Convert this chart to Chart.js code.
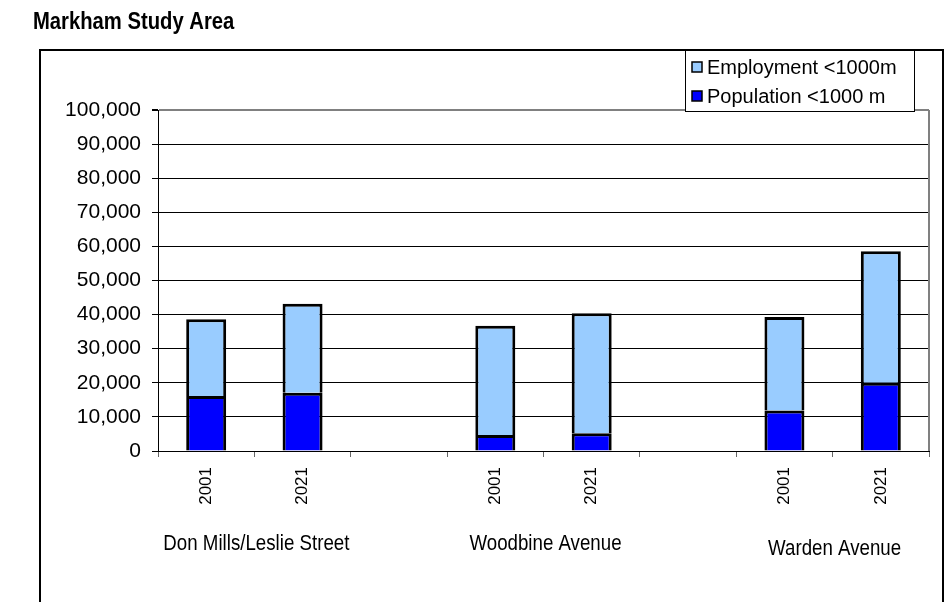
<!DOCTYPE html>
<html>
<head>
<meta charset="utf-8">
<script src="https://cdn.jsdelivr.net/npm/chart.js@4.4.0/dist/chart.umd.min.js"></script>
<style>
  body { margin: 0; background: #fff; }
</style>
</head>
<body>
<canvas id="grafico" width="951" height="602"></canvas>
<script>
var years = ['2001', '2021', '', '2001', '2021', '', '2001', '2021'];
var corridors = ['Don Mills/Leslie Street', 'Woodbine Avenue', 'Warden Avenue'];
var corridorStart = [0, 3, 6];
var population = [16100, 17100, null, 4700, 5200, null, 11900, 20000];
var employment = [22500, 26100, null, 32000, 35200, null, 27400, 38600];
var seriesNames = ['Population <1000 m', 'Employment <1000m'];

// Arial Narrow look-alike if it is there, plain Liberation Sans otherwise
function hasFont(name) {
    var c = document.createElement('canvas').getContext('2d');
    c.font = '20px monospace';
    var a = c.measureText('2001 Don Mills').width;
    c.font = '20px "' + name + '", monospace';
    return c.measureText('2001 Don Mills').width !== a;
}
var narrow = hasFont('Liberation Sans Narrow');
var sans = '"Liberation Sans", Arial, sans-serif';
var narrowFamily = narrow ? '"Liberation Sans Narrow", ' + sans : sans;

var frame = {
    id: 'frame',
    beforeDraw: function (chart) {
        var ctx = chart.ctx;
        ctx.save();
        ctx.fillStyle = '#fff';
        ctx.fillRect(0, 0, chart.width, chart.height);
        // outer box, open at the bottom
        ctx.strokeStyle = '#000';
        ctx.lineWidth = 2;
        ctx.beginPath();
        ctx.moveTo(40, 610);
        ctx.lineTo(40, 50);
        ctx.lineTo(943, 50);
        ctx.lineTo(943, 610);
        ctx.stroke();
        // title
        ctx.fillStyle = '#000';
        ctx.font = 'bold 23px ' + narrowFamily;
        ctx.textBaseline = 'alphabetic';
        ctx.save();
        ctx.translate(33, 29);
        if (!narrow) ctx.scale(0.88, 1);
        ctx.fillText('Markham Study Area', 0, 0);
        ctx.restore();
        ctx.restore();
    },
    afterDraw: function (chart) {
        var ctx = chart.ctx;
        var area = chart.chartArea;
        var x = chart.scales.x;
        ctx.save();
        // grey plot border on the right
        ctx.strokeStyle = '#808080';
        ctx.lineWidth = 2;
        ctx.beginPath();
        ctx.moveTo(area.right, area.top);
        ctx.lineTo(area.right, area.bottom);
        ctx.stroke();

        // corridor names under each pair of years
        ctx.fillStyle = '#000';
        ctx.textAlign = 'center';
        ctx.textBaseline = 'alphabetic';
        ctx.font = '22px ' + narrowFamily;
        for (var i = 0; i < corridors.length; i++) {
            var cx = (x.getPixelForValue(corridorStart[i]) + x.getPixelForValue(corridorStart[i] + 1)) / 2;
            var base = i == 2 ? 555 : 550;
            ctx.save();
            ctx.translate(cx + 2, base);
            if (!narrow) ctx.scale(0.85, 1);
            ctx.fillText(corridors[i], 0, 0);
            ctx.restore();
        }

        // legend box, employment listed first
        ctx.fillStyle = '#fff';
        ctx.fillRect(685, 50, 229, 61);
        ctx.strokeStyle = '#000';
        ctx.lineWidth = 1;
        ctx.strokeRect(685.5, 50.5, 229, 61);
        ctx.font = '20px ' + sans;
        ctx.textAlign = 'left';
        ctx.textBaseline = 'middle';
        var order = [1, 0];
        for (var j = 0; j < order.length; j++) {
            var ds = chart.data.datasets[order[j]];
            var cy = 67 + j * 29;
            ctx.fillStyle = ds.backgroundColor;
            ctx.fillRect(692, cy - 5, 10, 10);
            ctx.strokeStyle = '#000';
            ctx.lineWidth = 1.5;
            ctx.strokeRect(692, cy - 5, 10, 10);
            ctx.fillStyle = '#000';
            ctx.fillText(ds.label, 707, cy + 1);
        }
        ctx.restore();
    }
};

new Chart(document.getElementById('grafico'), {
    type: 'bar',
    data: {
        labels: years,
        datasets: [{
            label: seriesNames[0],
            data: population,
            backgroundColor: '#0000FF',
            borderColor: '#000',
            borderWidth: 3
        }, {
            label: seriesNames[1],
            data: employment,
            backgroundColor: '#99CCFF',
            borderColor: '#000',
            borderWidth: 3
        }]
    },
    options: {
        responsive: false,
        animation: false,
        devicePixelRatio: 1,
        categoryPercentage: 1,
        barPercentage: 0.415,
        layout: { padding: { top: 110, right: 22, left: 0, bottom: 0 } },
        plugins: {
            legend: { display: false },
            tooltip: { enabled: false }
        },
        scales: {
            x: {
                stacked: true,
                afterFit: function (s) { s.height = 151; },
                border: { color: '#000', width: 1 },
                grid: {
                    offset: true,
                    drawOnChartArea: false,
                    tickLength: 6,
                    color: '#666'
                },
                ticks: {
                    autoSkip: false,
                    minRotation: 90,
                    maxRotation: 90,
                    padding: 10,
                    color: '#000',
                    font: { family: sans, size: 17 }
                }
            },
            y: {
                stacked: true,
                min: 0,
                max: 100000,
                afterFit: function (s) { s.width = 158; },
                border: { color: '#000', width: 1 },
                grid: {
                    tickLength: 6,
                    color: function (c) { return c.tick && c.tick.value == 100000 ? '#808080' : '#000'; },
                    tickColor: '#000',
                    lineWidth: function (c) { return c.tick && c.tick.value == 100000 ? 2 : 1; }
                },
                ticks: {
                    stepSize: 10000,
                    padding: 11,
                    color: '#000',
                    font: { family: sans, size: 21 },
                    callback: function (v) { return v.toLocaleString('en-US'); }
                }
            }
        }
    },
    plugins: [frame]
});
</script>
</body>
</html>
